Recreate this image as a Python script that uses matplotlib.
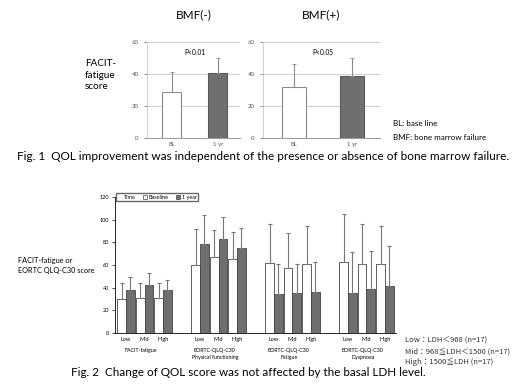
import matplotlib
matplotlib.use("Agg")
import matplotlib.pyplot as plt
from matplotlib.patches import Patch

# ---- Fig. 1 data: FACIT-fatigue score, mean and upper SD ----
fig1_cats = ["BL", "1 yr"]
bmf_neg_mean = [28.5, 40.8]
bmf_neg_sd = [12.5, 9.2]
bmf_pos_mean = [32.0, 39.0]
bmf_pos_sd = [14.0, 11.0]
fig1_p = ["P<0.01", "P<0.05"]

# ---- Fig. 2 data: score by LDH level (Low, Mid, High) ----
groups = ["FACIT-fatigue", "EORTC-QLQ-C30\nPhysical functioning",
          "EORTC-QLQ-C30\nFatigue", "EORTC-QLQ-C30\nDyspnoea"]
levels = ["Low", "Mid", "High"]
base_mean = [[30, 31, 30.6], [59.7, 66.8, 65], [61.5, 57.7, 61.2], [62.4, 60.6, 60.6]]
base_sd = [[14, 13, 13.4], [32.3, 23.8, 23.8], [35, 30.3, 33.2], [42.3, 35.6, 33.5]]
year_mean = [[38, 42.6, 37.6], [78.5, 83, 74.7], [34.1, 35, 36.5], [35, 39, 41.2]]
year_sd = [[11, 10, 9.2], [25.3, 19.4, 18.3], [26.5, 25.6, 25.9], [36.2, 33.6, 35.6]]

GRAY = "#6f6f6f"
W = 520
H = 390
plt.rcParams["font.family"] = ["Lato", "DejaVu Sans"]
fig = plt.figure(figsize=(5.2, 3.9), dpi=100)

def box(x0, y0, x1, y1):
    # pixel box (top-left origin) -> figure fraction rect
    return [x0 / W, 1 - y1 / H, (x1 - x0) / W, (y1 - y0) / H]

# =============================== Fig. 1
for rect, mean, sd, title, p in [(box(147, 42, 240, 138), bmf_neg_mean, bmf_neg_sd, "BMF(-)", fig1_p[0]),
                                 (box(263, 42, 380, 138), bmf_pos_mean, bmf_pos_sd, "BMF(+)", fig1_p[1])]:
    ax = fig.add_axes(rect)
    xs = range(len(fig1_cats))
    ax.bar(xs, mean, width=0.41, color=["white", GRAY], edgecolor=["#8a8a8a", "#5a5a5a"], lw=0.8, zorder=3)
    ax.errorbar(xs, mean, yerr=[[0, 0], sd], fmt="none", ecolor="#8a8a8a", elinewidth=0.8,
                capsize=1.2, capthick=0.6, zorder=4)
    ax.set_ylim(0, 60); ax.set_xlim(-0.53, 1.48)
    ax.set_yticks([0, 20, 40, 60])
    ax.set_xticks(list(xs)); ax.set_xticklabels(fig1_cats)
    ax.tick_params(labelsize=4.3, colors="#555555", length=2, width=0.5, pad=4)
    ax.tick_params(axis="x", length=0, pad=3)
    ax.grid(axis="y", color="#cfcfcf", lw=0.7, zorder=0)
    for s in ["top", "right"]:
        ax.spines[s].set_visible(False)
    ax.spines["left"].set_color("#cfcfcf"); ax.spines["bottom"].set_color("#9a9a9a")
    ax.spines["left"].set_linewidth(0.7); ax.spines["bottom"].set_linewidth(0.7)
    ax.text(0.5, 53.5, p, fontsize=4.8, ha="center", va="center")
    ax.set_title(title, fontsize=8.5, pad=17)

fig.text(85 / W, 1 - 75 / H, "FACIT-\nfatigue\nscore", fontsize=7.2, ha="left", va="center", linespacing=1.35)
fig.text(393 / W, 1 - 123 / H, "BL: base line", fontsize=5.8, va="center")
fig.text(393 / W, 1 - 137 / H, "BMF: bone marrow failure", fontsize=5.8, va="center")
fig.text(263.5 / W, 1 - 156 / H,
         "Fig. 1  QOL improvement was independent of the presence or absence of bone marrow failure.",
         fontsize=8.5, ha="center", va="center")

# =============================== Fig. 2
ax2 = fig.add_axes(box(115, 197, 396, 333))
bw = 0.47
pitch = 4
ticks, ticklabels = [], []
for g in range(len(groups)):
    for s in range(len(levels)):
        c = g * pitch + s
        ax2.bar(c - bw / 2, base_mean[g][s], width=bw, color="white", edgecolor="#444444", lw=0.6, zorder=3)
        ax2.bar(c + bw / 2, year_mean[g][s], width=bw, color=GRAY, edgecolor="#444444", lw=0.6, zorder=3)
        ax2.errorbar([c - bw / 2, c + bw / 2], [base_mean[g][s], year_mean[g][s]],
                     yerr=[[0, 0], [base_sd[g][s], year_sd[g][s]]], fmt="none", ecolor="#777777",
                     elinewidth=0.8, capsize=1.3, capthick=0.8, zorder=4)
        ticks.append(c); ticklabels.append(levels[s])
    ax2.text(g * pitch + 1 - 0.2, -13.5, groups[g], fontsize=3.8, ha="center", va="top", linespacing=1.5)
ax2.set_xlim(-0.6, 14.6); ax2.set_ylim(0, 120)
ax2.set_yticks(range(0, 121, 20))
ax2.set_xticks(ticks); ax2.set_xticklabels(ticklabels)
ax2.tick_params(labelsize=4, length=2, width=0.5, pad=2)
ax2.tick_params(axis="x", length=0, pad=3)
for s in ["top", "right"]:
    ax2.spines[s].set_visible(False)
ax2.spines["left"].set_linewidth(0.6); ax2.spines["bottom"].set_linewidth(0.6)
handles = [Patch(fc="none", ec="none", label="Time"),
           Patch(fc="white", ec="#444444", lw=0.5, label="Baseline"),
           Patch(fc=GRAY, ec="#444444", lw=0.5, label="1 year")]
ax2.legend(handles=handles, ncol=3, loc="upper left", bbox_to_anchor=(0.005, 1.03), fontsize=4,
           frameon=True, fancybox=False, edgecolor="#444444", handlelength=0.8, handleheight=0.8,
           handletextpad=0.3, columnspacing=1.2, borderpad=0.3, borderaxespad=0)

fig.text(18 / W, 1 - 265 / H, "FACIT-fatigue or\nEORTC QLQ-C30 score", fontsize=5.3, va="center", linespacing=1.5)
cjk = ["Noto Sans CJK JP", "DejaVu Sans"]
fig.text(405 / W, 1 - 341 / H, "Low：LDH＜968 (n=17)", fontsize=5.5, va="center", family=cjk, color="#333333")
fig.text(405 / W, 1 - 351.5 / H, "Mid：968≦LDH＜1500 (n=17)", fontsize=5.5, va="center", family=cjk, color="#333333")
fig.text(405 / W, 1 - 362 / H, "High：1500≦LDH (n=17)", fontsize=5.5, va="center", family=cjk, color="#333333")
fig.text(248 / W, 1 - 372 / H, "Fig. 2  Change of QOL score was not affected by the basal LDH level.",
         fontsize=8.4, ha="center", va="center")

fig.savefig("out.png", dpi=100, facecolor="white")
